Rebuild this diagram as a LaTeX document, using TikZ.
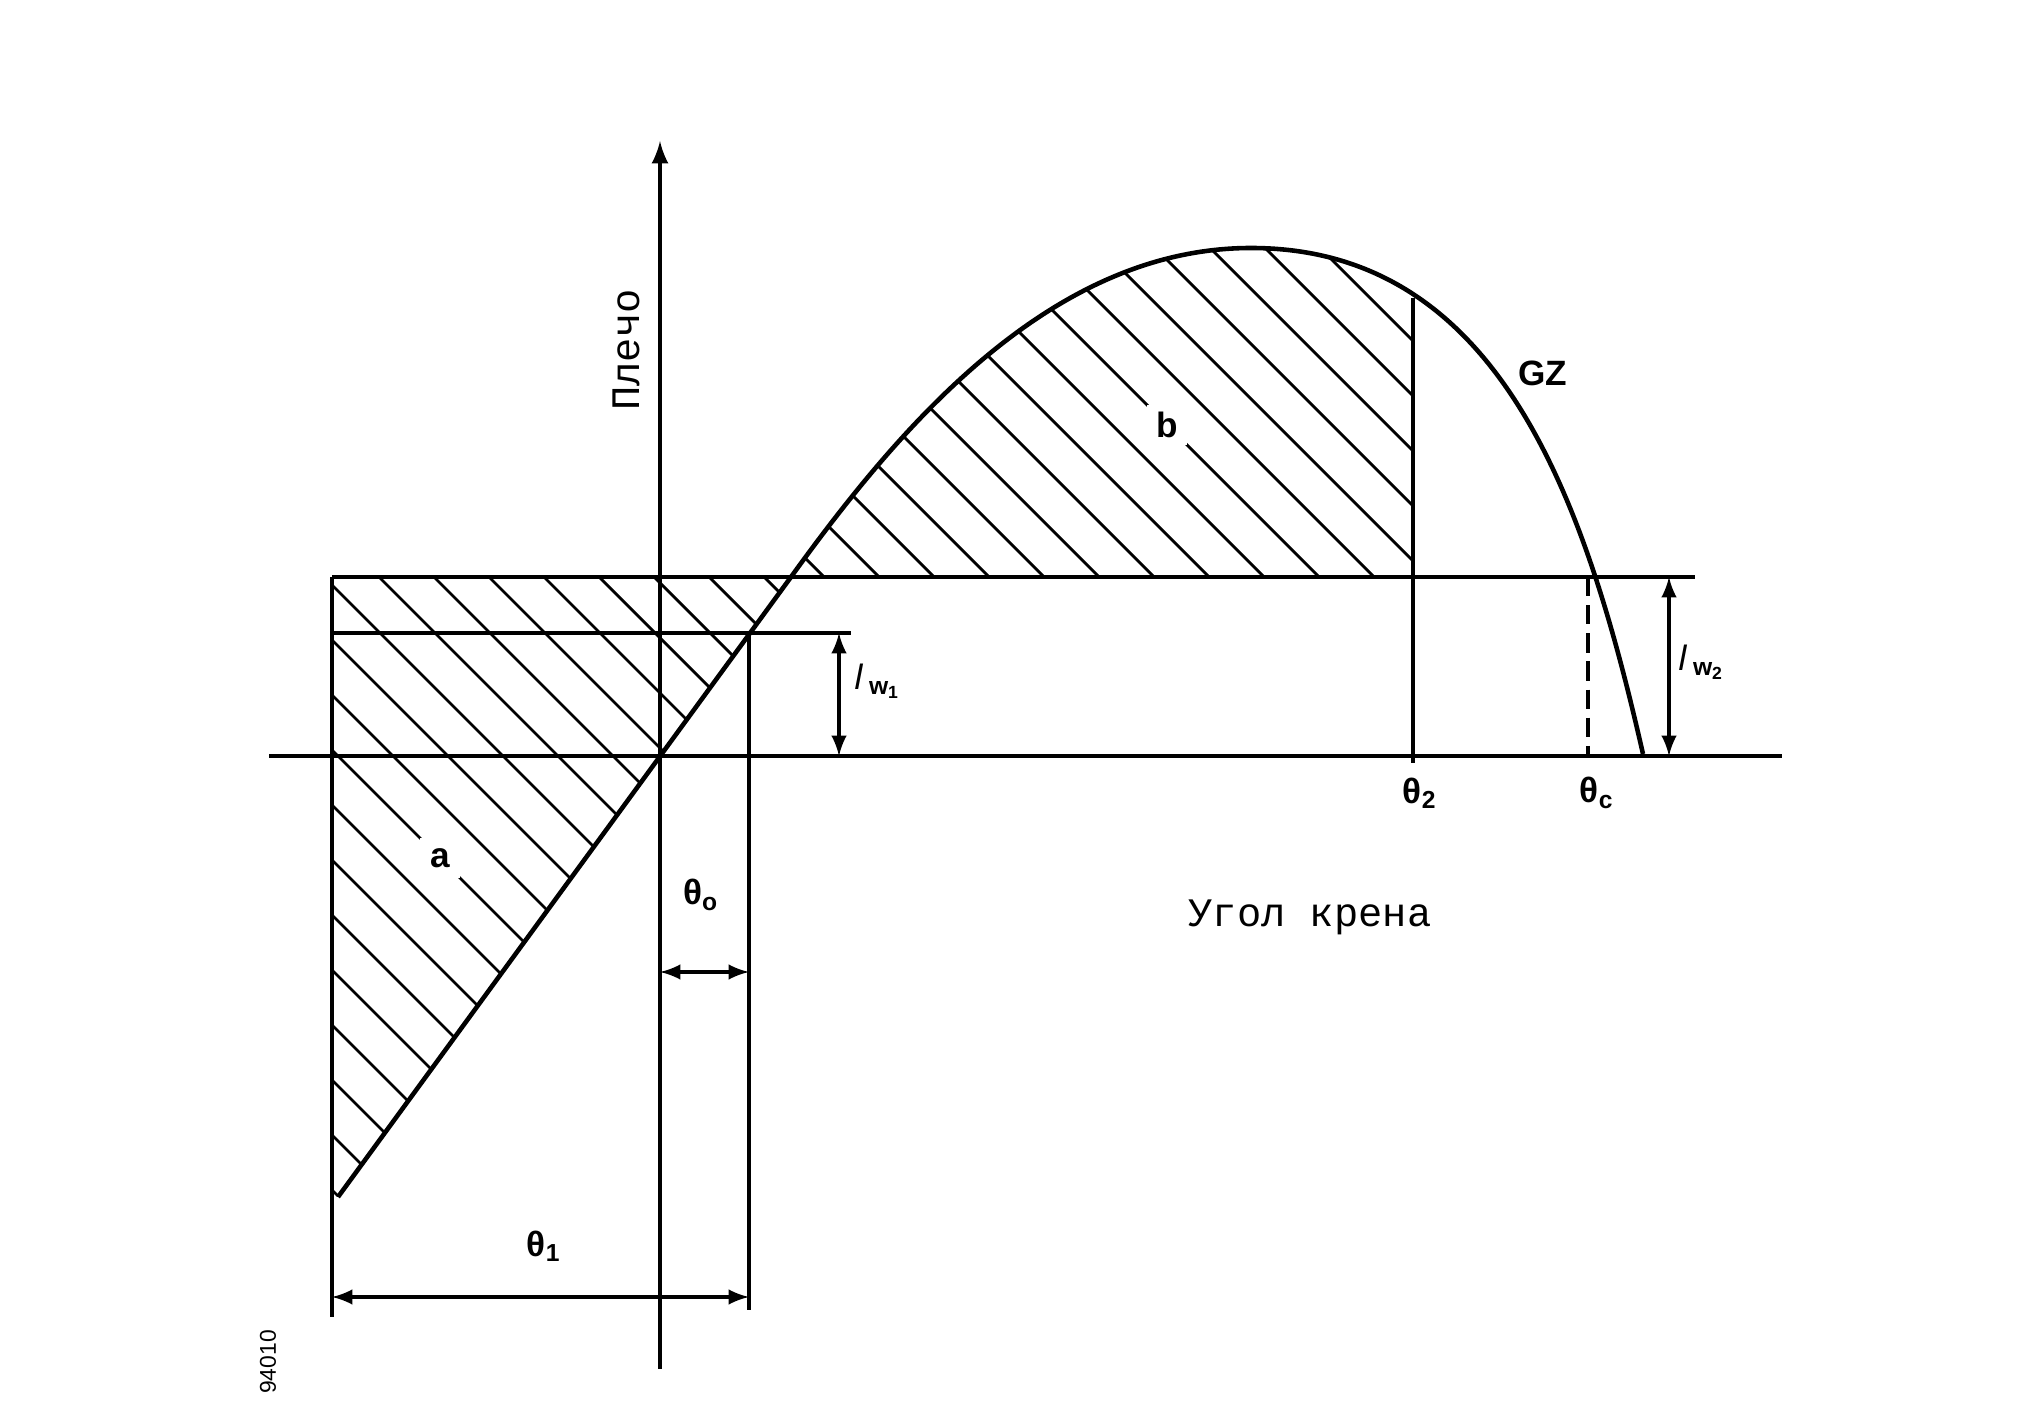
\documentclass[tikz,border=0pt]{standalone}
\usepackage{fontspec}
\setmainfont{Liberation Sans}
\newfontfamily\monofont{Liberation Mono}

\begin{document}
\begin{tikzpicture}[x=0.01cm,y=-0.01cm]
\tikzstyle{axis}=[line width=1.2pt]
\tikzstyle{hatch}=[line width=0.8pt]
\tikzstyle{curve}=[line width=1.3pt,line join=round]
\tikzstyle{dim}=[<->,>=latex,line width=1pt]
\tikzstyle{lbl}=[font=\bfseries\fontsize{10}{12}\selectfont,inner sep=1pt]
\tikzstyle{gap}=[lbl,fill=white,minimum size=0.4cm]
\tikzstyle{mono}=[font=\monofont\fontsize{11.5}{13}\selectfont]

\useasboundingbox (0,0) rectangle (2044,1428);

\def\gzcurve{(338,1197) -- (791,577) .. controls (900,426) and (1051,248) .. (1251,248) .. controls (1501,248) and (1586,504) .. (1643,754)}

% hatching of area a
\begin{scope}
\clip (332,577) -- (791,577) -- (338,1197) -- (332,1197) -- cycle;
\foreach \k in {-11,...,8}
  \draw[hatch] (200,{200+418+55*\k}) -- (1000,{1000+418+55*\k});
\end{scope}

% hatching of area b
\begin{scope}
\clip (786,577) rectangle (1413,240);
\clip \gzcurve -- cycle;
\foreach \k in {-7,...,10}
  \draw[hatch] (700,{700-742+55*\k}) -- (1500,{1500-742+55*\k});
\end{scope}

\node[gap] (a) at (440,858) {a};
\node[gap] (b) at (1167,425) {b};

% points
\coordinate (L2a) at (332,577);
\coordinate (L2b) at (1695,577);
\coordinate (L1a) at (332,633);
\coordinate (L1b) at (851,633);
\coordinate (Xa) at (269,756);
\coordinate (Xb) at (1782,756);
\coordinate (Ytop) at (660,141);
\coordinate (Ybot) at (660,1369);
\coordinate (Lbot) at (332,1317);
\coordinate (T0top) at (749,633);
\coordinate (T0bot) at (749,1310);
\coordinate (T2top) at (1413,298);
\coordinate (T2bot) at (1413,763);
\coordinate (Tctop) at (1588,577);
\coordinate (Tcbot) at (1588,756);

\draw[axis] (L2a) -- (L2b);
\draw[axis] (L1a) -- (L1b);
\draw[axis] (Xa) -- (Xb);
\draw[axis,->,>=latex] (Ybot) -- (Ytop);
\draw[axis] (L2a) -- (Lbot);
\draw[axis] (T0top) -- (T0bot);
\draw[axis] (T2top) -- (T2bot);
\draw[axis,dash pattern=on 5.5pt off 2.5pt] (Tctop) -- (Tcbot);

% GZ curve
\draw[curve] \gzcurve;

% dimensions
\coordinate (w1a) at (839,633);
\coordinate (w1b) at (839,756);
\coordinate (w2a) at (1669,577);
\coordinate (w2b) at (1669,756);
\coordinate (d0a) at (660,972);
\coordinate (d0b) at (749,972);
\coordinate (d1a) at (332,1297);
\coordinate (d1b) at (749,1297);
\draw[dim] (w1a) -- (w1b);
\draw[dim] (w2a) -- (w2b);
\draw[dim] (d0a) -- (d0b);
\draw[dim] (d1a) -- (d1b);

\node[lbl] (lw1) at (878,681) {\textit{\mdseries l}\,\textsubscript{w\textsubscript{1}}};
\node[lbl] (lw2) at (1702,662) {\textit{\mdseries l}\,\textsubscript{w\textsubscript{2}}};
\node[lbl] (th0) at (701,895) {θ\textsubscript{o}};
\node[lbl] (th1) at (544,1246) {θ\textsubscript{1}};
\node[lbl] (th2) at (1420,793) {θ\textsubscript{2}};
\node[lbl] (thc) at (1597,793) {θ\textsubscript{c}};
\node[lbl] (gz) at (1543,373) {GZ};

\node[mono,rotate=90] (arm) at (626,350) {Плечо};
\node[mono] (heel) at (1310,917) {Угол крена};
\node[font=\fontsize{6.5}{8}\selectfont,rotate=90] (num) at (268,1362) {94010};

\end{tikzpicture}
\end{document}
